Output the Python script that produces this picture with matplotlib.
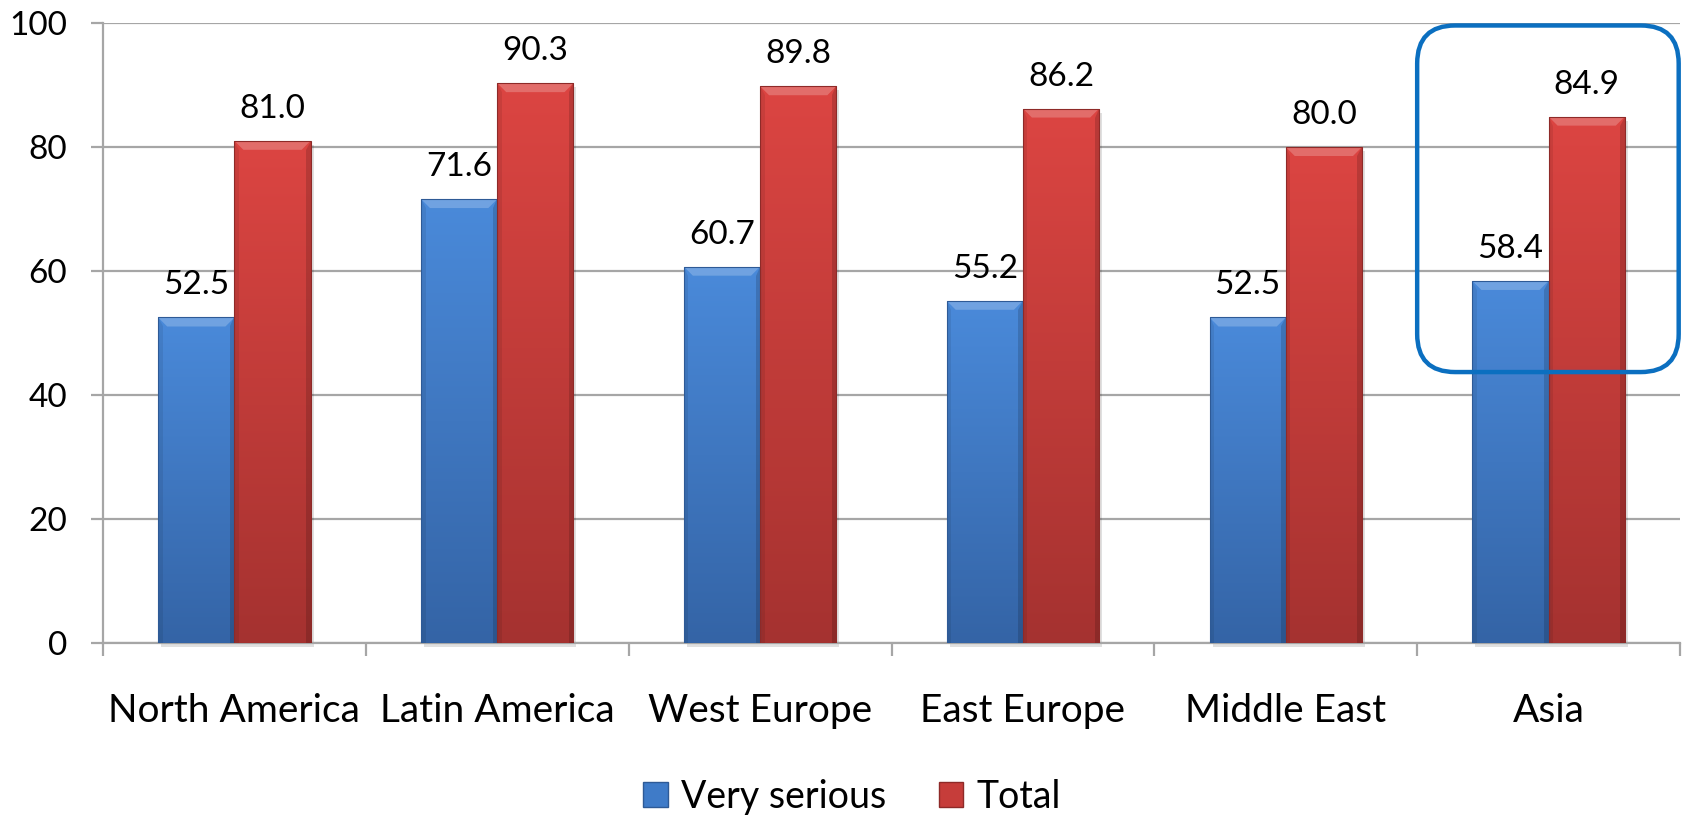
import numpy as np
import matplotlib
matplotlib.use("Agg")
import matplotlib.pyplot as plt
from matplotlib.patches import Rectangle, Polygon, FancyBboxPatch, Patch
from matplotlib.colors import LinearSegmentedColormap

plt.rcParams['font.family'] = ['Lato', 'DejaVu Sans']

categories = ["North America", "Latin America", "West Europe", "East Europe", "Middle East", "Asia"]
very_serious = [52.5, 71.6, 60.7, 55.2, 52.5, 58.4]
total = [81.0, 90.3, 89.8, 86.2, 80.0, 84.9]
series_names = ["Very serious", "Total"]
y_ticks = [0, 20, 40, 60, 80, 100]

W, H = 16.85, 8.22
fig = plt.figure(figsize=(W, H), dpi=100)
ax = fig.add_axes([103/1685, 179/822, (1680-103)/1685, (643-23)/822])
ax.set_xlim(-0.5, len(categories) - 0.5)
ax.set_ylim(0, 100)

px_x = (1680 - 103) / len(categories)   # pixels per x data unit
px_y = (643 - 23) / 100.0               # pixels per y data unit

blue_top, blue_bot = "#4A8ADA", "#3464A6"
red_top, red_bot = "#DC4542", "#A53230"
blue_edge, red_edge = "#2E5A96", "#8E2A28"
bar_w = 0.29

def draw_bar(x0, h, ctop, cbot, cedge):
    rect = Rectangle((x0, 0), bar_w, h, facecolor="none", edgecolor="none", zorder=3)
    ax.add_patch(rect)
    cmap = LinearSegmentedColormap.from_list("g", [cbot, ctop])
    grad = np.linspace(0, 1, 256).reshape(-1, 1)
    im = ax.imshow(grad, cmap=cmap, aspect="auto", origin="lower",
                   extent=(x0, x0 + bar_w, 0, h), zorder=3, interpolation="bicubic")
    im.set_clip_path(rect)
    dx = 9 / px_x
    dy = 9 / px_y
    ax.add_patch(Polygon([(x0, h), (x0 + bar_w, h), (x0 + bar_w - dx, h - dy), (x0 + dx, h - dy)],
                         closed=True, facecolor=(1, 1, 1, 0.22), edgecolor="none", zorder=4))
    ax.add_patch(Polygon([(x0 + bar_w, h), (x0 + bar_w, 0), (x0 + bar_w - dx * 0.5, 0), (x0 + bar_w - dx * 0.5, h - dy)],
                         closed=True, facecolor=(0, 0, 0, 0.15), edgecolor="none", zorder=4))
    ax.add_patch(Polygon([(x0, h), (x0, 0), (x0 + dx * 0.5, 0), (x0 + dx * 0.5, h - dy)],
                         closed=True, facecolor=(0, 0, 0, 0.08), edgecolor="none", zorder=4))
    ax.add_patch(Rectangle((x0, 0), bar_w, h, facecolor="none", edgecolor=cedge, lw=0.8, zorder=5))
    ax.add_patch(Rectangle((x0 + 3 / px_x, -4 / px_y), bar_w, h, facecolor=(0, 0, 0, 0.12),
                           edgecolor="none", zorder=2.5, clip_on=False))

x = np.arange(len(categories))
for i in range(len(categories)):
    draw_bar(x[i] - bar_w, very_serious[i], blue_top, blue_bot, blue_edge)
    draw_bar(x[i], total[i], red_top, red_bot, red_edge)
    ax.text(x[i] - bar_w / 2, very_serious[i] + 17 / px_y, f"{very_serious[i]:.1f}",
            ha="center", va="bottom", fontsize=24, color="black", zorder=6)
    ax.text(x[i] + bar_w / 2, total[i] + 17 / px_y, f"{total[i]:.1f}",
            ha="center", va="bottom", fontsize=24, color="black", zorder=6)

grid_color = "#A6A6A6"
ax.set_yticks(y_ticks)
ax.yaxis.grid(True, color=grid_color, lw=1.6, zorder=0)
ax.set_axisbelow(True)
for s in ["top", "right"]:
    ax.spines[s].set_visible(False)
for s in ["left", "bottom"]:
    ax.spines[s].set_color(grid_color)
    ax.spines[s].set_linewidth(1.6)
ax.tick_params(axis="y", length=9, width=1.6, color=grid_color, pad=17, labelsize=24)
ax.set_xticks(x)
ax.set_xticklabels(categories)
ax.set_xticks(np.arange(len(categories) + 1) - 0.5, minor=True)
ax.tick_params(axis="x", which="major", length=0, pad=36, labelsize=28)
ax.tick_params(axis="x", which="minor", length=9, width=1.6, color=grid_color)

r_px = 38
rx = r_px / px_x
asp = (r_px / px_y) / rx
box = FancyBboxPatch((4.5, 43.7), 0.995, 99.6 - 43.7,
                     boxstyle=f"round,pad=0,rounding_size={rx}", mutation_aspect=asp,
                     facecolor="none", edgecolor="#0B6FC0", lw=3.2, zorder=7, clip_on=False)
ax.add_patch(box)

handles = [Patch(facecolor="#3F7BC8", edgecolor=blue_edge, label=series_names[0]),
           Patch(facecolor="#C63D3A", edgecolor=red_edge, label=series_names[1])]
fig.legend(handles=handles, loc="center", bbox_to_anchor=(852 / 1685, 1 - 797 / 822), ncol=2,
           frameon=False, fontsize=27, handlelength=0.65, handleheight=0.65,
           handletextpad=0.35, columnspacing=1.4)

fig.savefig("out.png", dpi=100)
